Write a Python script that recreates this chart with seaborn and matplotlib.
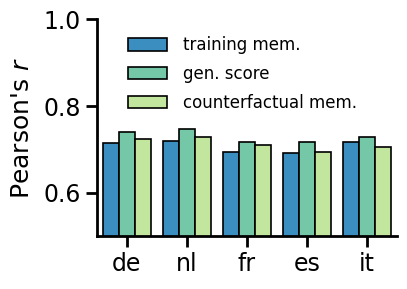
import matplotlib
matplotlib.use("Agg")
import matplotlib.pyplot as plt
import seaborn as sns
import pandas as pd

languages = ["de", "nl", "fr", "es", "it"]
training_mem = [0.716, 0.720, 0.694, 0.692, 0.717]
gen_score = [0.741, 0.748, 0.718, 0.717, 0.729]
counterfactual_mem = [0.723, 0.729, 0.710, 0.695, 0.705]
series_names = ["training mem.", "gen. score", "counterfactual mem."]
colors = ["#3a8ec0", "#74c8a8", "#c2e69e"]

rows = []
for name, vals in zip(series_names, [training_mem, gen_score, counterfactual_mem]):
    for lang, v in zip(languages, vals):
        rows.append({"lang": lang, "series": name, "value": v})
df = pd.DataFrame(rows)

sns.set_theme(style="ticks")
plt.rcParams['font.family'] = ['DejaVu Sans']
plt.rcParams['text.color'] = 'black'

fig = plt.figure(figsize=(4.07, 2.89), dpi=100)
ax = fig.add_axes([0.238, 0.182, 0.737, 0.752])
sns.barplot(data=df, x="lang", y="value", hue="series", palette=colors,
            saturation=1, edgecolor="black", linewidth=1.2, ax=ax, errorbar=None)
ax.set_ylim(0.5, 1.0)
ax.set_yticks([0.6, 0.8, 1.0])
ax.set_xlim(-0.5, 4.5)
ax.set_xlabel("")
ax.set_ylabel("Pearson's $r$", fontsize=18, color="black", labelpad=7)
ax.tick_params(axis="both", labelsize=17, width=2, length=8, color="black", labelcolor="black")
for s in ["left", "bottom"]:
    ax.spines[s].set_linewidth(2)
    ax.spines[s].set_color("black")
sns.despine(ax=ax)
leg = ax.legend(loc="upper left", bbox_to_anchor=(0.055, 0.99), frameon=False,
                fontsize=12, handlelength=2.3, handleheight=0.75, labelspacing=0.65,
                handletextpad=1.0)
for t in leg.get_texts():
    t.set_color("black")
fig.savefig("out.png", dpi=100)
